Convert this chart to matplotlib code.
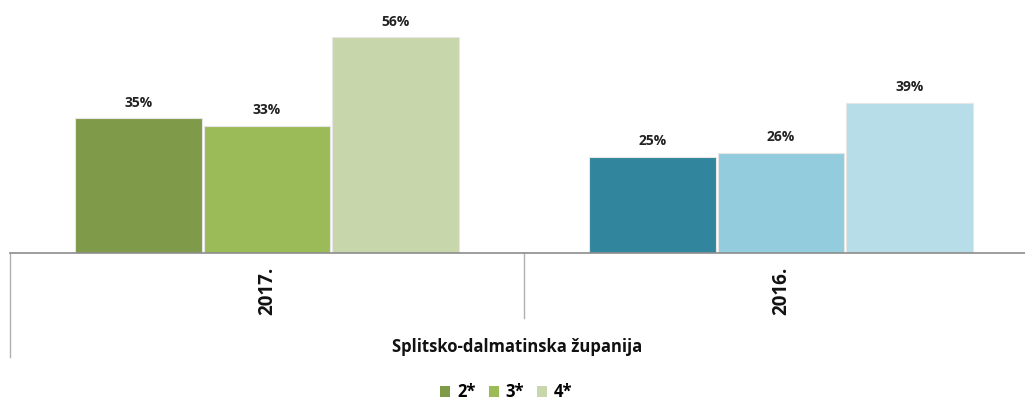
import matplotlib.pyplot as plt
from matplotlib.patches import Patch

# Data.
years = ["2017.", "2016."]
stars = ["2*", "3*", "4*"]
share_2017 = [35, 33, 56]
share_2016 = [25, 26, 39]
region = "Splitsko-dalmatinska županija"

greens = ["#7f9a48", "#9bbb59", "#c8d6ab"]
blues = ["#31859c", "#93cddd", "#b7dde8"]

plt.rcParams["font.family"] = ["Open Sans", "DejaVu Sans"]


def main():
    fig = plt.figure(figsize=(10.25, 4.03), dpi=100)
    ax = fig.add_axes([10 / 1025, 150 / 403, 1015 / 1025, 253 / 403])

    width = 0.247
    offsets = [-0.25, 0.0, 0.25]
    for gi, (values, colors) in enumerate([(share_2017, greens), (share_2016, blues)]):
        for off, val, col in zip(offsets, values, colors):
            ax.bar(gi + off, val, width=width, color=col, edgecolor="#e6e6e6",
                   linewidth=0.8)
            ax.text(gi + off, val + 2.2, f"{val}%", ha="center", va="bottom",
                    fontsize=10, fontweight="bold", color="#222222")

    ax.set_xlim(-0.5, -0.5 + 1015 / 514)
    ax.set_ylim(0, 65.7)
    for side in ["top", "right", "left"]:
        ax.spines[side].set_visible(False)
    ax.spines["bottom"].set_color("#8c8c8c")
    ax.spines["bottom"].set_linewidth(1.2)
    ax.set_xticks([])
    ax.set_yticks([])

    # Category separators under the axis.
    trans = ax.get_xaxis_transform()
    ax.plot([-0.5, -0.5], [0, -0.411], transform=trans, clip_on=False,
            color="#b0b0b0", linewidth=1)
    ax.plot([0.5, 0.5], [0, -0.257], transform=trans, clip_on=False,
            color="#b0b0b0", linewidth=1)

    for i, year in enumerate(years):
        ax.text(i, -0.15, year, transform=trans, rotation=90, ha="center",
                va="center", fontsize=13.5, fontweight="bold", color="#111111")

    fig.text(517 / 1025, 1 - 347 / 403, region, ha="center", va="center",
             fontsize=12, fontweight="bold", color="#111111")

    handles = [Patch(facecolor=c, edgecolor="none") for c in greens]
    fig.legend(handles, stars, loc="center", bbox_to_anchor=(0.494, 0.027),
               ncol=3, frameon=False, handlelength=0.6, handleheight=0.6,
               handletextpad=0.4, columnspacing=0.8,
               prop={"weight": "bold", "size": 12})

    fig.savefig("out.png", dpi=100)


if __name__ == "__main__":
    main()
